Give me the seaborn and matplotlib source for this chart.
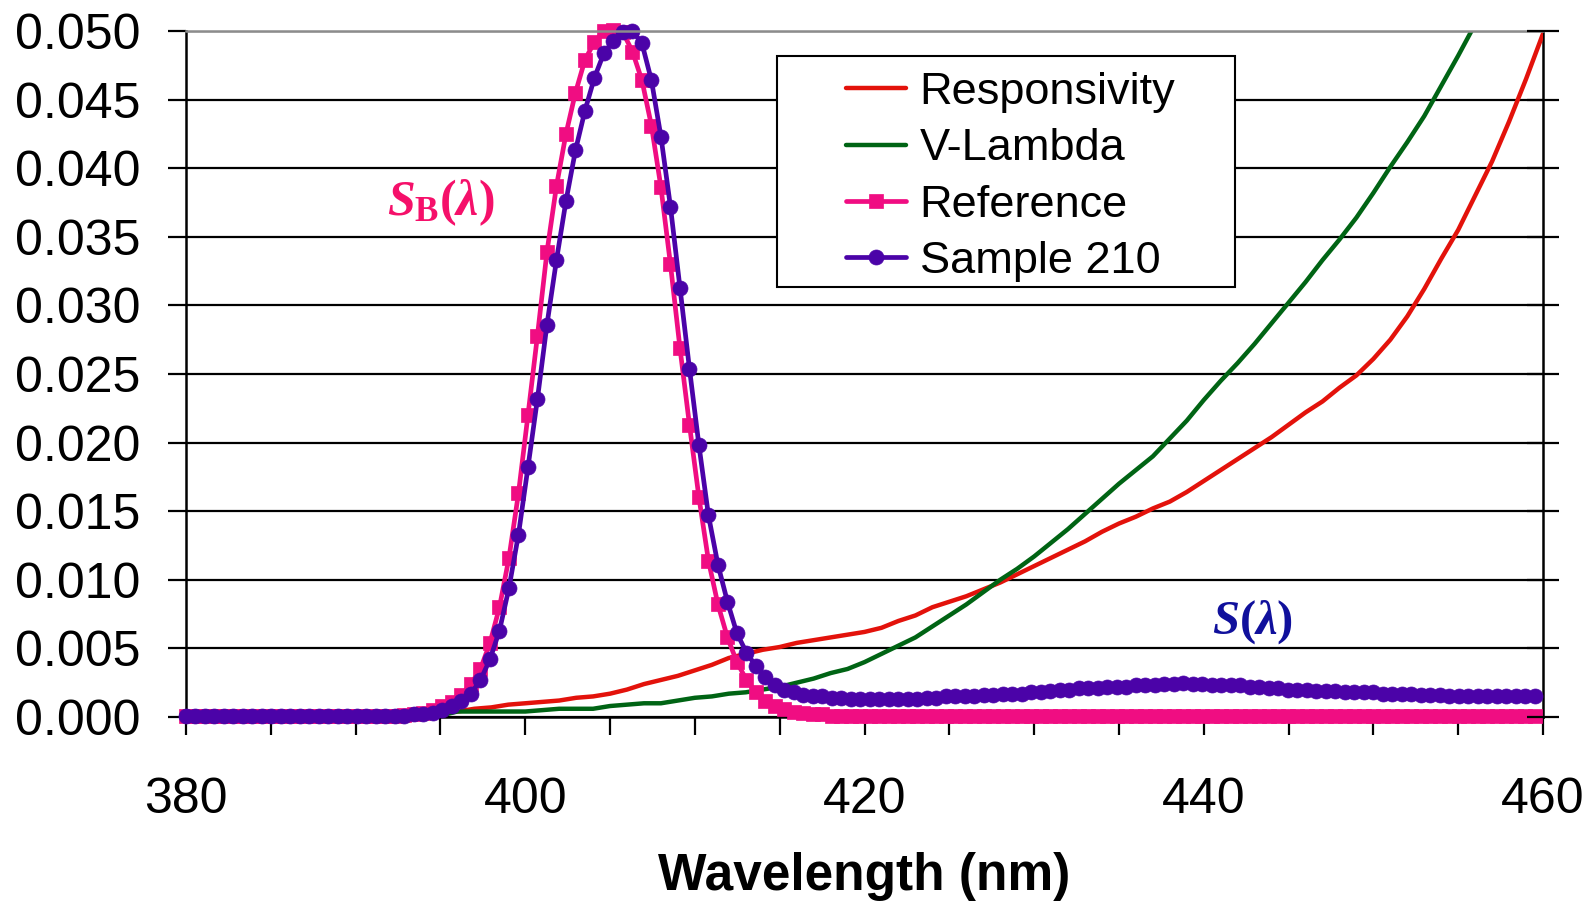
import numpy as np
import pandas as pd
import matplotlib
matplotlib.use("Agg")
import matplotlib.pyplot as plt
import seaborn as sns
from matplotlib.patches import Rectangle
from matplotlib.ticker import MultipleLocator, FormatStrFormatter

# ---------------- data ----------------
wl_line = list(range(380, 461))
responsivity = [
    0, 0, 0, 0, 0, 0, 0, 0, 0, 0,
    0, 0, 0, 0.0001, 0.0002, 0.0003, 0.0004, 0.0006, 0.0007, 0.0009,
    0.0010, 0.0011, 0.0012, 0.0014, 0.0015, 0.0017, 0.0020, 0.0024, 0.0027, 0.0030,
    0.0034, 0.0038, 0.0043, 0.0046, 0.0049, 0.0051, 0.0054, 0.0056, 0.0058, 0.0060,
    0.0062, 0.0065, 0.0070, 0.0074, 0.0080, 0.0084, 0.0088, 0.0093, 0.0098, 0.0104,
    0.0110, 0.0116, 0.0122, 0.0128, 0.0135, 0.0141, 0.0146, 0.0152, 0.0157, 0.0164,
    0.0172, 0.0180, 0.0188, 0.0196, 0.0204, 0.0213, 0.0222, 0.0230, 0.0240, 0.0249,
    0.0261, 0.0275, 0.0292, 0.0312, 0.0334, 0.0355, 0.0380, 0.0405, 0.0434, 0.0465,
    0.0498,
]
v_lambda = [
    0, 0, 0, 0, 0, 0, 0, 0, 0, 0,
    0, 0, 0, 0, 0, 0.0001, 0.0004, 0.0004, 0.0004, 0.0004,
    0.0004, 0.0005, 0.0006, 0.0006, 0.0006, 0.0008, 0.0009, 0.0010, 0.0010, 0.0012,
    0.0014, 0.0015, 0.0017, 0.0018, 0.0020, 0.0022, 0.0025, 0.0028, 0.0032, 0.0035,
    0.0040, 0.0046, 0.0052, 0.0058, 0.0066, 0.0074, 0.0082, 0.0091, 0.0100, 0.0108,
    0.0117, 0.0127, 0.0137, 0.0148, 0.0159, 0.0170, 0.0180, 0.0190, 0.0203, 0.0216,
    0.0231, 0.0245, 0.0258, 0.0272, 0.0287, 0.0302, 0.0317, 0.0333, 0.0348, 0.0364,
    0.0382, 0.0401, 0.0419, 0.0438, 0.0460, 0.0482, 0.0505, 0.0530, 0.0556, 0.0583,
    0.0611,
]

# spectrometer sampling of the measured spectra (nm)
wl_spec = np.round(380 + 0.56 * np.arange(143), 2)
reference = [
    0.0001, 0.0001, 0.0001, 0.0001, 0.0001, 0.0001, 0.0001, 0.0001, 0.0001, 0.0001,
    0.0001, 0.0001, 0.0001, 0.0001, 0.0001, 0.0001, 0.0001, 0.0001, 0.0001, 0.0001,
    0.0001, 0.0001, 0.0001, 0.00015, 0.0002, 0.0003, 0.0005, 0.0008, 0.0011, 0.0016,
    0.0024, 0.0035, 0.0054, 0.0080, 0.0116, 0.0163, 0.0220, 0.0278, 0.0339, 0.0387,
    0.0425, 0.0455, 0.0479, 0.0492, 0.0500, 0.0501, 0.0499, 0.0485, 0.0464, 0.0431,
    0.0386, 0.0330, 0.0269, 0.0213, 0.0160, 0.0114, 0.0082, 0.0058, 0.0040, 0.0027,
    0.0018, 0.0012, 0.0008, 0.0006, 0.0004, 0.0003, 0.0002, 0.0002, 0.0001, 0.0001,
    0.0001, 0.0001, 0.0001, 0.0001, 0.0001, 0.0001, 0.0001, 0.0001, 0.0001, 0.0001,
    0.0001, 0.0001, 0.0001, 0.0001, 0.0001, 0.0001, 0.0001, 0.0001, 0.0001, 0.0001,
    0.0001, 0.0001, 0.0001, 0.0001, 0.0001, 0.0001, 0.0001, 0.0001, 0.0001, 0.0001,
    0.0001, 0.0001, 0.0001, 0.0001, 0.0001, 0.0001, 0.0001, 0.0001, 0.0001, 0.0001,
    0.0001, 0.0001, 0.0001, 0.0001, 0.0001, 0.0001, 0.0001, 0.0001, 0.0001, 0.0001,
    0.0001, 0.0001, 0.0001, 0.0001, 0.0001, 0.0001, 0.0001, 0.0001, 0.0001, 0.0001,
    0.0001, 0.0001, 0.0001, 0.0001, 0.0001, 0.0001, 0.0001, 0.0001, 0.0001, 0.0001,
    0.0001, 0.0001, 0.0001,
]
sample = [
    0.0001, 0.0001, 0.0001, 0.0001, 0.0001, 0.0001, 0.0001, 0.0001, 0.0001, 0.0001,
    0.0001, 0.0001, 0.0001, 0.0001, 0.0001, 0.0001, 0.0001, 0.0001, 0.0001, 0.0001,
    0.0001, 0.0001, 0.0001, 0.0001, 0.0002, 0.0002, 0.0003, 0.0005, 0.0008, 0.0012,
    0.0017, 0.0027, 0.0042, 0.0063, 0.0094, 0.0133, 0.0182, 0.0232, 0.0286, 0.0333,
    0.0376, 0.0413, 0.0442, 0.0466, 0.0484, 0.0493, 0.0499, 0.0500, 0.0491, 0.0464,
    0.0423, 0.0372, 0.0313, 0.0254, 0.0198, 0.0147, 0.0111, 0.0084, 0.0061, 0.0047,
    0.0037, 0.0029, 0.0023, 0.0020, 0.0018, 0.0016, 0.0015, 0.0015, 0.0014, 0.0014,
    0.0013, 0.0013, 0.0013, 0.0013, 0.0013, 0.0013, 0.0013, 0.0013, 0.0014, 0.0014,
    0.0015, 0.0015, 0.0015, 0.0015, 0.0016, 0.0016, 0.0017, 0.0017, 0.0017, 0.0018,
    0.0018, 0.0019, 0.0020, 0.0020, 0.0021, 0.0021, 0.0021, 0.0022, 0.0022, 0.0022,
    0.0023, 0.0023, 0.0023, 0.0024, 0.0024, 0.0025, 0.0024, 0.0024, 0.0023, 0.0023,
    0.0023, 0.0023, 0.0022, 0.0022, 0.0021, 0.0021, 0.0020, 0.0020, 0.0020, 0.0019,
    0.0019, 0.0019, 0.0018, 0.0018, 0.0018, 0.0018, 0.0017, 0.0017, 0.0017, 0.0017,
    0.0016, 0.0016, 0.0016, 0.0015, 0.0015, 0.0015, 0.0015, 0.0015, 0.0015, 0.0015,
    0.0015, 0.0015, 0.0015,
]

series_labels = ["Responsivity", "V-Lambda", "Reference", "Sample 210"]
x_label = "Wavelength (nm)"
sb_label = r"$S_\mathrm{B}(\lambda)$"
s_label = r"$S(\lambda)$"

# ---------------- style ----------------
RED = "#E3120B"
GREEN = "#006414"
PINK = "#F00D82"
PURPLE = "#4B03A8"
SB_COLOR = "#F5106A"
S_COLOR = "#10109C"

sns.set_theme(style="white")
plt.rcParams["font.family"] = ["Liberation Sans", "DejaVu Sans"]
plt.rcParams["text.color"] = "black"
plt.rcParams["mathtext.fontset"] = "custom"
plt.rcParams["mathtext.it"] = "Liberation Serif:italic:bold"
plt.rcParams["mathtext.rm"] = "Liberation Serif:bold"
plt.rcParams["mathtext.bf"] = "Liberation Serif:bold"

fig = plt.figure(figsize=(15.88, 9.02), dpi=100)
ax = fig.add_axes([186 / 1588, 1 - 717 / 902, 1357 / 1588, 686 / 902])

df_line = pd.DataFrame({"wl": wl_line, "resp": responsivity, "vl": v_lambda})
df_spec = pd.DataFrame({"wl": wl_spec, "ref": reference, "smp": sample})

sns.lineplot(data=df_line, x="wl", y="resp", ax=ax, color=RED, lw=3.2,
             label=series_labels[0], zorder=3)
sns.lineplot(data=df_line, x="wl", y="vl", ax=ax, color=GREEN, lw=3.2,
             label=series_labels[1], zorder=3)
sns.lineplot(data=df_spec, x="wl", y="ref", ax=ax, color=PINK, lw=3.4,
             marker="s", markersize=9.6, markeredgecolor=PINK, markeredgewidth=0.5,
             label=series_labels[2], zorder=4, clip_on=False)
sns.lineplot(data=df_spec, x="wl", y="smp", ax=ax, color=PURPLE, lw=3.4,
             marker="o", markersize=10.8, markeredgecolor=PURPLE, markeredgewidth=0.5,
             label=series_labels[3], zorder=5, clip_on=False)

ax.set_xlim(380, 460)
ax.set_ylim(0, 0.05)
ax.xaxis.set_major_locator(MultipleLocator(20))
ax.xaxis.set_minor_locator(MultipleLocator(5))
ax.yaxis.set_major_locator(MultipleLocator(0.005))
ax.yaxis.set_major_formatter(FormatStrFormatter("%.3f"))
ax.grid(axis="y", color="black", lw=1.6)
ax.grid(axis="x", visible=False)
ax.set_axisbelow(True)

ax.tick_params(axis="x", which="both", direction="out", length=13, width=1.6,
               pad=30, labelsize=36, bottom=True, colors="black")
ax.tick_params(axis="y", which="major", direction="out", length=13, width=1.6,
               pad=20, labelsize=36, left=True, colors="black")
for side in ["left", "bottom", "right"]:
    ax.spines[side].set_color("black")
    ax.spines[side].set_linewidth(1.8)
ax.spines["top"].set_color("#8c8c8c")
ax.spines["top"].set_linewidth(1.8)
ax.spines["top"].set_zorder(6)

ax.set_ylabel("")
ax.set_xlabel(x_label, fontsize=37, fontweight="bold", color="black")
ax.xaxis.set_label_coords(0.5, -0.197)

# right-hand tick marks
twin = ax.twinx()
twin.set_ylim(0, 0.05)
twin.yaxis.set_major_locator(MultipleLocator(0.005))
twin.tick_params(axis="y", direction="inout", length=23, width=1.6,
                 right=True, labelright=False, colors="black")
twin.grid(False)
for side in twin.spines:
    twin.spines[side].set_visible(False)

# annotations
ax.text(395.0, 0.0366, sb_label, color=SB_COLOR, fontsize=36,
        ha="center", va="baseline", zorder=7)
ax.text(442.85, 0.0061, s_label, color=S_COLOR, fontsize=35,
        ha="center", va="baseline", zorder=7)

# legend with box
box = Rectangle((0.4357, 0.6273), 0.7730 - 0.4357, 0.9640 - 0.6273,
                transform=ax.transAxes, facecolor="white", edgecolor="black",
                lw=1.5, zorder=8)
ax.add_patch(box)
handles, labels = ax.get_legend_handles_labels()
leg = ax.legend(handles, labels, loc="upper left", bbox_to_anchor=(0.4864, 0.9402),
                frameon=False, fontsize=32.5, handlelength=1.33, handletextpad=0.3,
                labelspacing=0.34, borderpad=0, borderaxespad=0, markerscale=1.0,
                labelcolor="black")
leg.set_zorder(9)

fig.savefig("out.png", dpi=100, facecolor="white")
